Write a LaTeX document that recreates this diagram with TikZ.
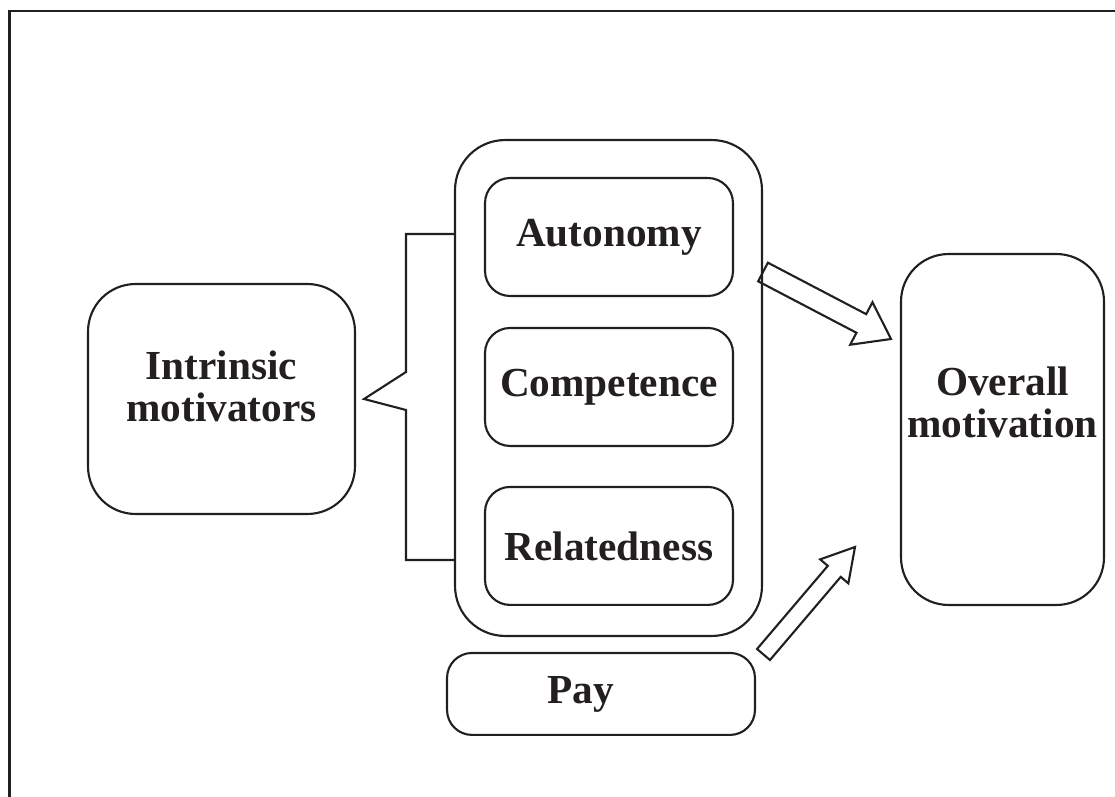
\documentclass[tikz,border=0pt]{standalone}
\usepackage{fontspec}
\setmainfont{Liberation Serif}
\usepackage{tikz}
\usetikzlibrary{calc}
\usetikzlibrary{positioning}
\definecolor{ink}{RGB}{35,31,32}
\tikzset{
    boxtext/.style={
           font=\fontsize{23.5}{24}\selectfont\bfseries,
           text=ink,
           align=center,
           },
    box/.style={
           rectangle,
           boxtext,
           draw=ink, line width=1.2pt,
           rounded corners=0.5cm,
           minimum width=4.96cm,
           minimum height=2.36cm,
           },
    bigbox/.style={box, rounded corners=0.95cm},
    hollow/.style={draw=ink, line width=1.2pt, line join=miter},
}
% block arrow: tail, tip, half shaft, half head, head length
\newcommand{\hollowarrow}[5]{%
    \draw[hollow] ($(#1)!#3!90:(#2)$) -- ($(#2)!#5!(#1)!#3!-90:(#1)$)
        -- ($(#2)!#5!(#1)!#4!-90:(#1)$) -- (#2)
        -- ($(#2)!#5!(#1)!#4!90:(#1)$) -- ($(#2)!#5!(#1)!#3!90:(#1)$)
        -- ($(#1)!#3!-90:(#2)$) -- cycle;
}

\begin{document}
\begin{tikzpicture}[x=0.02cm,y=-0.02cm]
        \useasboundingbox (0,0) rectangle (1115,797);
        \draw[ink, line width=1.4pt] (9.5,797) -- (9.5,11) -- (1115,11);

        \node[bigbox, minimum width=6.14cm, minimum height=9.92cm, rounded corners=1cm] (G) at (608.5,388) {};
        \node[box] (A) at (609,237) {Autonomy};
        \node[box, below of = A, node distance =3cm] (B) {Competence};
        \node[box, below of = B, node distance =3.18cm] (C) {Relatedness};
        \node[box, below of = G, node distance =6.12cm, xshift=-0.15cm, minimum width=6.16cm, minimum height=1.64cm] (D) {Pay\hspace{0.8cm}};
        \node[bigbox, minimum width=5.34cm, minimum height=4.6cm,
              label={[boxtext, yshift=0.26cm]center:Intrinsic\\motivators}] (E) at (221.5,399) {};
        \node[bigbox, minimum width=4.06cm, minimum height=7.02cm,
              label={[boxtext, yshift=0.54cm]center:Overall\\motivation}] (F) at (1002.5,429.5) {};

        % bracket with pointer to E
        \draw[hollow] (G.west |- 0,234) -- (406,234) -- (406,372) -- ([xshift=0.16cm]E.east)
            -- (406,410) -- (406,560) -- (G.west |- 0,560);

        \coordinate (a1) at (G.east |- 0,272);
        \coordinate (b1) at (891,339);
        \coordinate (a2) at (763.5,654.5);
        \coordinate (b2) at (855,547);
        \hollowarrow{a1}{b1}{0.21cm}{0.48cm}{0.67cm}
        \hollowarrow{a2}{b2}{0.17cm}{0.37cm}{0.64cm}
    \end{tikzpicture}
\end{document}
